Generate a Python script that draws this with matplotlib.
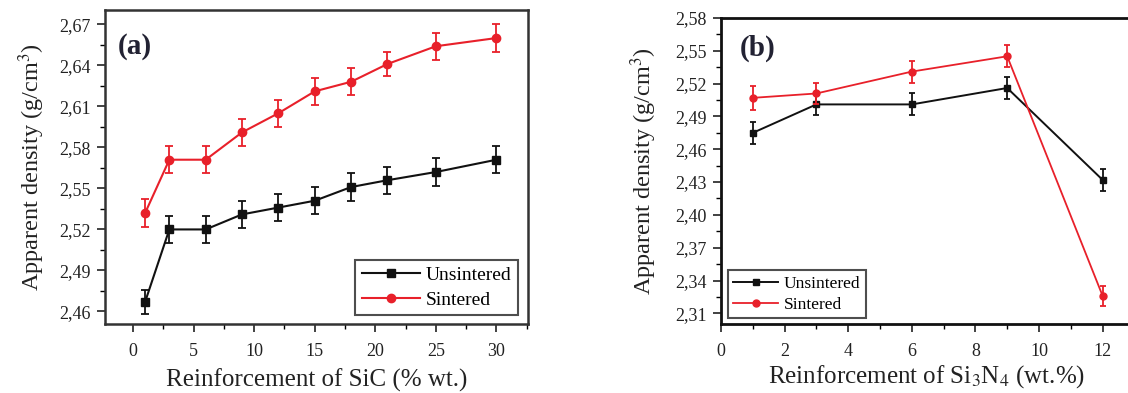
import matplotlib
matplotlib.use("Agg")
import matplotlib.pyplot as plt
from matplotlib.ticker import MultipleLocator, FuncFormatter

plt.rcParams['font.family'] = ['Liberation Serif', 'DejaVu Serif']
plt.rcParams['mathtext.fontset'] = 'stix'

# ---- data panel (a) ----
sic_x = [1, 3, 6, 9, 12, 15, 18, 21, 25, 30]
sic_unsintered = [2.467, 2.520, 2.520, 2.531, 2.536, 2.541, 2.551, 2.556, 2.562, 2.571]
sic_unsintered_err = [0.009, 0.010, 0.010, 0.010, 0.010, 0.010, 0.010, 0.010, 0.010, 0.010]
sic_sintered = [2.532, 2.571, 2.571, 2.591, 2.605, 2.621, 2.628, 2.641, 2.654, 2.660]
sic_sintered_err = [0.010, 0.010, 0.010, 0.010, 0.010, 0.010, 0.010, 0.009, 0.010, 0.010]

# ---- data panel (b) ----
sn_x = [1, 3, 6, 9, 12]
sn_unsintered = [2.475, 2.501, 2.501, 2.516, 2.432]
sn_unsintered_err = [0.010, 0.010, 0.010, 0.010, 0.010]
sn_sintered = [2.507, 2.511, 2.531, 2.545, 2.326]
sn_sintered_err = [0.011, 0.010, 0.010, 0.010, 0.009]

yticks_a = [2.46, 2.49, 2.52, 2.55, 2.58, 2.61, 2.64, 2.67]
yticks_b = [2.31, 2.34, 2.37, 2.40, 2.43, 2.46, 2.49, 2.52, 2.55, 2.58]

RED = '#e8202a'
BLACK = '#111111'

W, H = 1128, 393
fig = plt.figure(figsize=(W / 100, H / 100), dpi=100)

def frac(l, t, r, b):
    return [l / W, 1 - b / H, (r - l) / W, (b - t) / H]

comma = FuncFormatter(lambda v, p: f"{v:.2f}".replace('.', ','))

def series(axis, x, y, err, color, marker, ms, lw, cap, label):
    axis.errorbar(x, y, yerr=err, fmt='none', ecolor=color, capsize=cap,
                  elinewidth=1.3, capthick=1.3)
    axis.plot(x, y, color=color, lw=lw, marker=marker, ms=ms, label=label)

# ---------------- panel (a) ----------------
ax = fig.add_axes(frac(105, 10, 528, 323.5))
series(ax, sic_x, sic_unsintered, sic_unsintered_err, BLACK, 's', 6, 1.5, 3, 'Unsintered')
series(ax, sic_x, sic_sintered, sic_sintered_err, RED, 'o', 6, 1.5, 3, 'Sintered')
ax.set_xlim(-2.31, 32.6)
ax.set_ylim(2.4512, 2.6805)
ax.set_xticks([0, 5, 10, 15, 20, 25, 30])
ax.xaxis.set_minor_locator(MultipleLocator(2.5))
ax.set_yticks(yticks_a)
ax.yaxis.set_minor_locator(MultipleLocator(0.015))
ax.yaxis.set_major_formatter(comma)
ax.tick_params(axis='both', which='major', direction='out', length=6, width=1.2,
               labelsize=13, colors='#222222')
ax.tick_params(axis='x', which='major', pad=8)
ax.tick_params(axis='y', which='major', pad=4)
ax.tick_params(axis='both', which='minor', direction='out', length=3.5, width=1.0)
for s in ax.spines.values():
    s.set_linewidth(1.8)
    s.set_color('#333333')
ax.set_xlabel('Reinforcement of SiC (% wt.)', fontsize=18, color='#222222', labelpad=6)
ax.set_ylabel('Apparent density (g/cm$^3$)', fontsize=17.5, color='#222222', labelpad=9)
ax.text(0.03, 0.882, '(a)', transform=ax.transAxes, fontsize=21, fontweight='bold',
        color='#222233', va='center', ha='left')
leg = ax.legend(loc='lower right', bbox_to_anchor=(0.977, 0.026), borderaxespad=0,
                fontsize=14, frameon=True, fancybox=False, edgecolor='#222222',
                handlelength=3.0, handletextpad=0.3, labelspacing=0.35, borderpad=0.35)
leg.get_frame().set_linewidth(1.5)

# ---------------- panel (b) ----------------
bx = fig.add_axes(frac(721, 18, 721 + 14 * 31.8, 323.5))
series(bx, sn_x, sn_unsintered, sn_unsintered_err, BLACK, 's', 5, 1.4, 2.5, 'Unsintered')
series(bx, sn_x, sn_sintered, sn_sintered_err, RED, 'o', 5, 1.3, 2.5, 'Sintered')
bx.set_xlim(0, 14)
bx.set_ylim(2.3007, 2.58)
bx.set_xticks([0, 2, 4, 6, 8, 10, 12])
bx.xaxis.set_minor_locator(MultipleLocator(1))
bx.set_yticks(yticks_b)
bx.yaxis.set_minor_locator(MultipleLocator(0.015))
bx.yaxis.set_major_formatter(comma)
bx.tick_params(axis='both', which='major', direction='out', length=6, width=1.2,
               labelsize=13, colors='#222222')
bx.tick_params(axis='x', which='major', pad=8)
bx.tick_params(axis='y', which='major', pad=4)
bx.tick_params(axis='both', which='minor', direction='out', length=3.5, width=1.0)
for s in bx.spines.values():
    s.set_linewidth(2.0)
    s.set_color('#111111')
bx.set_xlabel('Reinforcement of Si$_3$N$_4$ (wt.%)', fontsize=18, color='#222222', labelpad=6)
bx.xaxis.set_label_coords(0.461, -0.13)
bx.set_ylabel('Apparent density (g/cm$^3$)', fontsize=17.5, color='#222222', labelpad=12)
bx.text(0.043, 0.90, '(b)', transform=bx.transAxes, fontsize=21, fontweight='bold',
        color='#222233', va='center', ha='left')
leg2 = bx.legend(loc='lower left', bbox_to_anchor=(0.016, 0.017), borderaxespad=0,
                 fontsize=12.5, frameon=True, fancybox=False, edgecolor='#222222',
                 handlelength=2.6, handletextpad=0.3, labelspacing=0.3, borderpad=0.3)
leg2.get_frame().set_linewidth(1.5)

fig.savefig('out.png', dpi=100)
